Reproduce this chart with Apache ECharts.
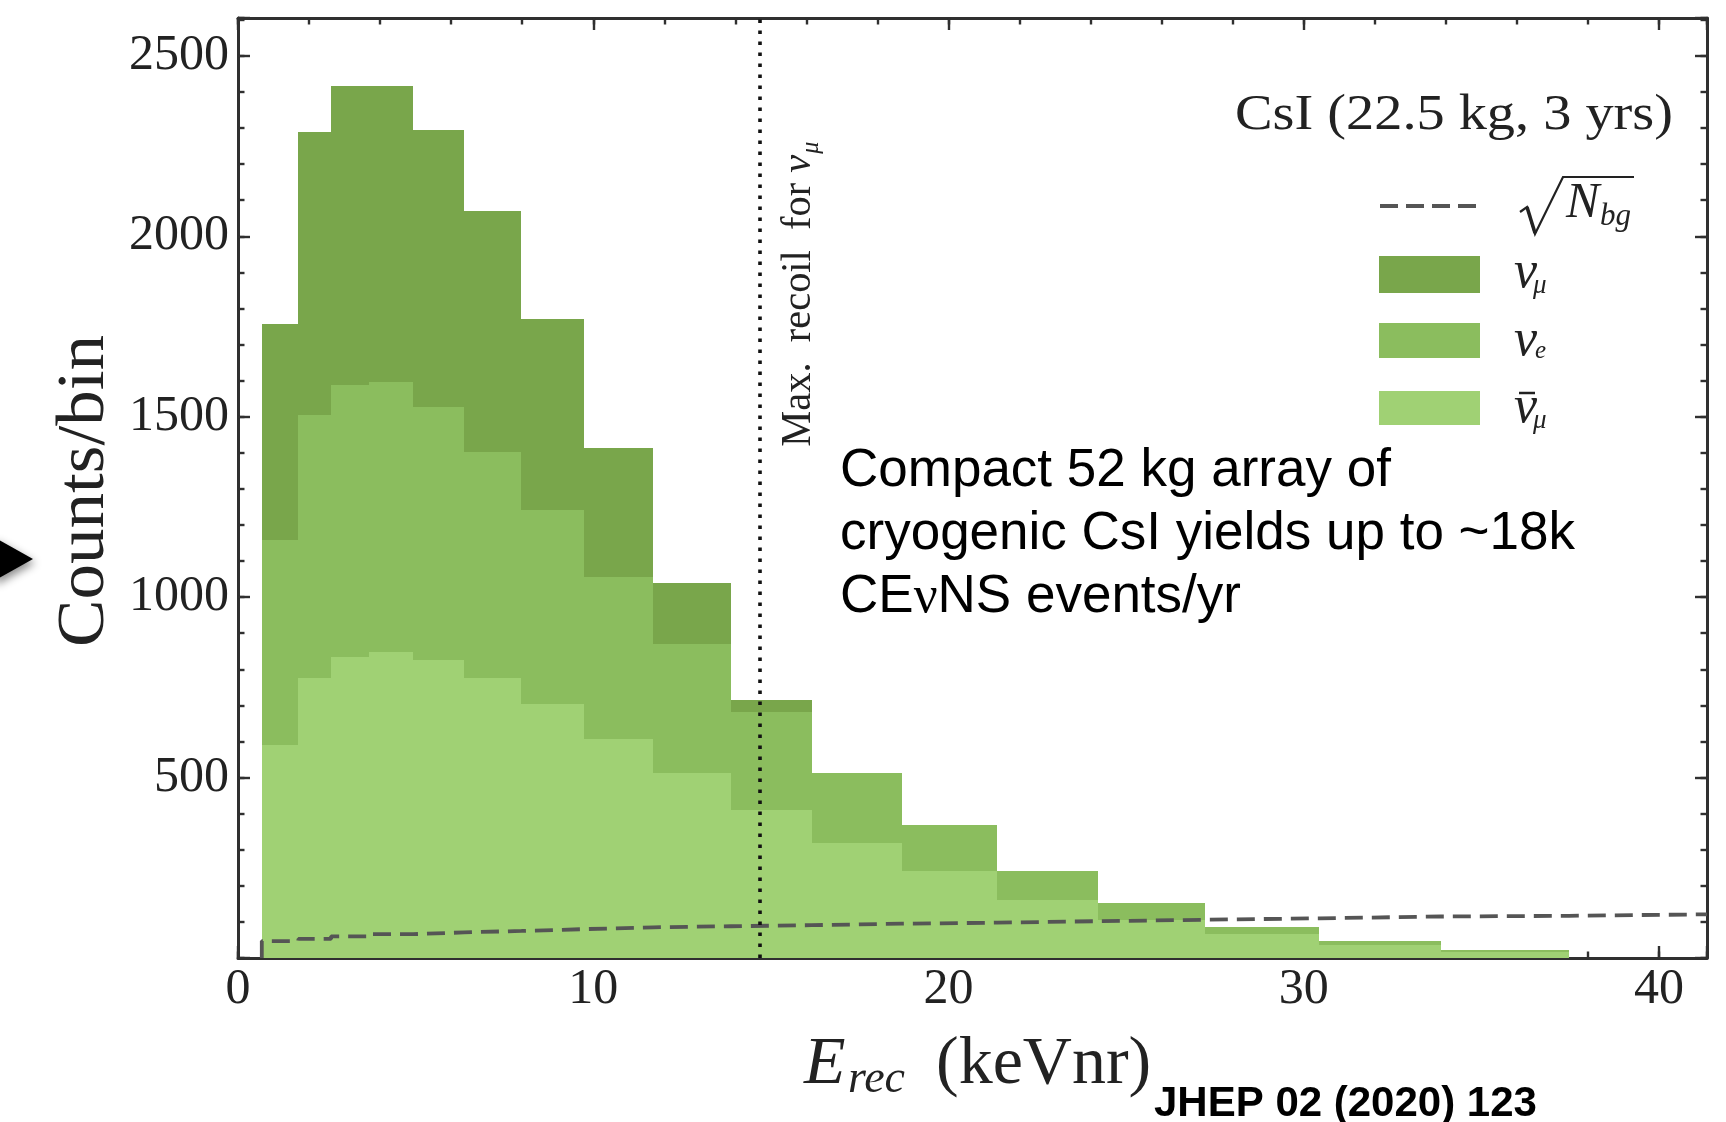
<!DOCTYPE html>
<html>
<head>
<meta charset="utf-8">
<script src="https://cdn.jsdelivr.net/npm/echarts@6/dist/echarts.min.js"></script>
<style>
  html, body { margin: 0; padding: 0; background: #fff; }
  #chart { width: 1726px; height: 1122px; }
</style>
</head>
<body>
<div id="chart"></div>
<script>
// Recoil-energy bin edges (keVnr)
const binEdges = [0.67, 1.70, 2.62, 3.69, 4.93, 6.36, 7.98, 9.75, 11.69, 13.88, 16.15, 18.68, 21.37, 24.20, 27.23, 30.44, 33.85, 37.46];
// Counts per bin for each neutrino flavour
const countsNumu    = [599, 782, 830, 822, 769, 668, 528, 356, 171, 32, 0, 0, 0, 0, 0, 0, 0];
const countsNue     = [569, 731, 754, 747, 701, 627, 537, 449, 357, 273, 194, 128, 82, 46, 21, 10, 4];
const countsNumubar = [590, 775, 833, 848, 826, 775, 705, 608, 512, 410, 320, 240, 160, 106, 66, 37, 17];
// sqrt(N_bg) per bin, and its level beyond the last signal bin
const sqrtBg = [47, 53, 60, 66, 71, 75, 80, 85, 88, 91, 95, 98, 102, 106, 110, 115, 117];
const sqrtBgTail = 121;
// Kinematic endpoint of the prompt nu_mu recoil spectrum (keVnr)
const maxRecoilNumu = 14.68;
// Axis ranges and labelled ticks
const xMax = 41.35;
const yMax = 2605;
const xTickLabels = [0, 10, 20, 30, 40];
const yTickLabels = [500, 1000, 1500, 2000, 2500];

const colNumu = '#79a64b';
const colNue = '#8bbd5e';
const colNumubar = '#a0d174';
const ink = '#222';
const axisColor = '#303030';
const SERIF = '"Liberation Serif", "Times New Roman", serif';
const SANS = '"Liberation Sans", Arial, Helvetica, sans-serif';

// stack the three flavours: anti-nu_mu at the bottom, nu_e, then nu_mu
function stackLayer(counts, below) {
  return counts.map((c, i) => {
    const base = below.reduce((s, arr) => s + arr[i], 0);
    return [binEdges[i], binEdges[i + 1], base, base + c];
  });
}
const layerNumubar = stackLayer(countsNumubar, []);
const layerNue = stackLayer(countsNue, [countsNumubar]);
const layerNumu = stackLayer(countsNumu, [countsNumubar, countsNue]);

function binRenderer(color) {
  return function (params, api) {
    const a = api.coord([api.value(0), api.value(3)]);
    const b = api.coord([api.value(1), api.value(2)]);
    const x0 = Math.round(a[0]), x1 = Math.round(b[0]);
    const y0 = Math.round(a[1]), y1 = Math.round(b[1]);
    if (y1 - y0 <= 0) return null;
    return { type: 'rect', shape: { x: x0, y: y0, width: x1 - x0, height: y1 - y0 }, style: { fill: color } };
  };
}

// step line for sqrt(N_bg)
const bgPoints = [[binEdges[0], 0]];
sqrtBg.forEach((v, i) => bgPoints.push([binEdges[i], v]));
bgPoints.push([binEdges[binEdges.length - 1], sqrtBgTail]);
bgPoints.push([xMax, sqrtBgTail]);

// text measuring helpers (baseline placement)
const mctx = document.createElement('canvas').getContext('2d');
function textW(font, s) { mctx.font = font; mctx.textBaseline = 'alphabetic'; return mctx.measureText(s).width; }
function midShift(font) {
  mctx.font = font; mctx.textBaseline = 'middle';
  const d = mctx.measureText('H').actualBoundingBoxDescent;
  mctx.textBaseline = 'alphabetic';
  return d;
}
function txt(s, x, baseline, font, extra) {
  const el = {
    type: 'text', x: x, y: baseline - midShift(font), silent: true,
    style: { text: s, font: font, fill: ink, align: 'left', verticalAlign: 'middle' }
  };
  if (extra) {
    if (extra.style) Object.assign(el.style, extra.style);
    ['scaleX', 'originX', 'originY'].forEach(k => { if (extra[k] != null) el[k] = extra[k]; });
  }
  return el;
}

const graphics = [];

// panel title
(function () {
  const f = '51px ' + SERIF;
  const s = 'CsI (22.5 kg, 3 yrs)';
  graphics.push(txt(s, 1673, 129, f, { style: { align: 'right' }, scaleX: 438 / textW(f, s) }));
})();

// legend
graphics.push({ type: 'line', silent: true, shape: { x1: 1380, y1: 206, x2: 1477, y2: 206 },
  style: { stroke: '#555', lineWidth: 3.8, lineDash: [18, 8] } });
graphics.push({ type: 'polyline', silent: true,
  shape: { points: [[1520, 212], [1527, 207], [1535, 234], [1563, 177], [1634, 177]] },
  style: { stroke: ink, lineWidth: 2.2, fill: null } });
graphics.push({ type: 'line', silent: true, shape: { x1: 1527, y1: 207, x2: 1535, y2: 233 },
  style: { stroke: ink, lineWidth: 3.5 } });
graphics.push(txt('N', 1566, 217, 'italic 50px ' + SERIF));
graphics.push(txt('bg', 1600, 225, 'italic 31px ' + SERIF));

[[colNumu, 256, 293], [colNue, 323, 358], [colNumubar, 391, 425]].forEach(([c, y0, y1]) => {
  graphics.push({ type: 'rect', silent: true, shape: { x: 1379, y: y0, width: 101, height: y1 - y0 }, style: { fill: c } });
});
graphics.push(txt('\u03bd', 1514, 287, 'italic 52px ' + SERIF));
graphics.push(txt('\u03bc', 1533, 293, 'italic 27px ' + SERIF));
graphics.push(txt('\u03bd', 1514, 355, 'italic 52px ' + SERIF));
graphics.push(txt('e', 1535, 358, 'italic 25px ' + SERIF));
graphics.push(txt('\u03bd', 1514, 422, 'italic 52px ' + SERIF));
graphics.push({ type: 'line', silent: true, shape: { x1: 1519, y1: 393, x2: 1535, y2: 393 }, style: { stroke: ink, lineWidth: 2.5 } });
graphics.push(txt('\u03bc', 1533, 428, 'italic 27px ' + SERIF));

// "Max. recoil for nu_mu" along the dotted line
(function () {
  const f1 = '42px ' + SERIF, f2 = 'italic 42px ' + SERIF, f3 = 'italic 25px ' + SERIF;
  const s1 = 'Max.  recoil  for ';
  const w1 = textW(f1, s1), w2 = textW(f2, '\u03bd') + 1, w3 = textW(f3, '\u03bc');
  graphics.push({
    type: 'group', x: 810, y: 446.7, rotation: Math.PI / 2, scaleX: 305 / (w1 + w2 + w3), silent: true,
    children: [txt(s1, 0, 0, f1), txt('\u03bd', w1, 0, f2), txt('\u03bc', w1 + w2, 8, f3)]
  });
})();

// y-axis name
(function () {
  const f = '68px ' + SERIF, s = 'Counts/bin';
  graphics.push({
    type: 'group', x: 103, y: 491, rotation: Math.PI / 2, scaleX: 312 / textW(f, s), silent: true,
    children: [txt(s, 0, 0, f, { style: { align: 'center' } })]
  });
})();

// x-axis name
graphics.push(txt('E', 804, 1083, 'italic 68px ' + SERIF));
graphics.push(txt('rec', 848, 1092, 'italic 46px ' + SERIF));
graphics.push(txt('(keVnr)', 936, 1083, '68px ' + SERIF));

// annotation
(function () {
  const f = '53px ' + SANS, fg = '53px ' + SERIF;
  graphics.push(txt('Compact 52 kg array of', 840, 486, f, { style: { fill: '#000' } }));
  graphics.push(txt('cryogenic CsI yields up to ~18k', 840, 549, f, { style: { fill: '#000' } }));
  let x = 840;
  [['CE', f], ['\u03bd', fg], ['NS events/yr', f]].forEach(([s, ff]) => {
    graphics.push(txt(s, x, 612, ff, { style: { fill: '#000' } }));
    x += textW(ff, s);
  });
})();

// reference
graphics.push(txt('JHEP 02 (2020) 123', 1154, 1116, 'bold 42px ' + SANS, { style: { fill: '#000' } }));

// pointer arrow at the left margin
graphics.push({ type: 'polygon', silent: true,
  shape: { points: [[-6, 537], [33, 559], [-6, 581]] },
  style: { fill: '#000', shadowBlur: 8, shadowColor: 'rgba(0,0,0,0.45)', shadowOffsetX: 2, shadowOffsetY: 4 } });

function valueAxis(dim, opts) {
  const isMajor = opts.major;
  return {
    type: 'value', gridIndex: opts.grid, position: opts.position,
    min: 0, max: dim === 'x' ? xMax : yMax,
    interval: dim === 'x' ? (isMajor ? 10 : 2) : (isMajor ? 500 : 100),
    axisLine: { show: isMajor, onZero: false, lineStyle: { color: axisColor, width: 3 } },
    axisTick: { show: true, inside: true, length: isMajor ? 12 : 6.5, lineStyle: { color: axisColor, width: 2.4 } },
    axisLabel: opts.labels ? {
      show: true, color: ink, fontFamily: SERIF, fontSize: 50, margin: dim === 'x' ? 7 : 9,
      formatter: v => ((dim === 'x' ? xTickLabels : yTickLabels).includes(v) ? String(v) : '')
    } : { show: false },
    splitLine: { show: false },
    minorTick: { show: false },
    axisPointer: { show: false }
  };
}

const chart = echarts.init(document.getElementById('chart'), null, { renderer: 'canvas' });
chart.setOption({
  animation: false,
  backgroundColor: '#fff',
  grid: [
    { left: 238, top: 18, right: 19, bottom: 164, containLabel: false, outerBoundsMode: 'none' },
    { left: 238, top: 18, right: 19, bottom: 164, containLabel: false, outerBoundsMode: 'none' }
  ],
  xAxis: [
    valueAxis('x', { grid: 0, position: 'bottom', major: true, labels: true }),
    valueAxis('x', { grid: 0, position: 'top', major: true, labels: false }),
    valueAxis('x', { grid: 1, position: 'bottom', major: false, labels: false }),
    valueAxis('x', { grid: 1, position: 'top', major: false, labels: false })
  ],
  yAxis: [
    valueAxis('y', { grid: 0, position: 'left', major: true, labels: true }),
    valueAxis('y', { grid: 0, position: 'right', major: true, labels: false }),
    valueAxis('y', { grid: 1, position: 'left', major: false, labels: false }),
    valueAxis('y', { grid: 1, position: 'right', major: false, labels: false })
  ],
  series: [
    { name: '\u03bd\u0304\u03bc', type: 'custom', xAxisIndex: 0, yAxisIndex: 0, renderItem: binRenderer(colNumubar),
      encode: { x: [0, 1], y: [2, 3] }, data: layerNumubar, silent: true },
    { name: '\u03bde', type: 'custom', xAxisIndex: 0, yAxisIndex: 0, renderItem: binRenderer(colNue),
      encode: { x: [0, 1], y: [2, 3] }, data: layerNue, silent: true },
    { name: '\u03bd\u03bc', type: 'custom', xAxisIndex: 0, yAxisIndex: 0, renderItem: binRenderer(colNumu),
      encode: { x: [0, 1], y: [2, 3] }, data: layerNumu, silent: true },
    { name: 'sqrt(Nbg)', type: 'line', xAxisIndex: 0, yAxisIndex: 0, data: bgPoints, step: 'end',
      showSymbol: false, symbol: 'none', silent: true,
      lineStyle: { color: '#555', width: 3.8, type: [18, 9], cap: 'butt' },
      markLine: {
        silent: true, symbol: ['none', 'none'], label: { show: false }, emphasis: { disabled: true },
        lineStyle: { color: '#111', width: 3.6, type: [3.6, 7.4], cap: 'butt' },
        data: [{ xAxis: maxRecoilNumu }]
      }
    }
  ],
  graphic: { elements: graphics }
});
</script>
</body>
</html>
